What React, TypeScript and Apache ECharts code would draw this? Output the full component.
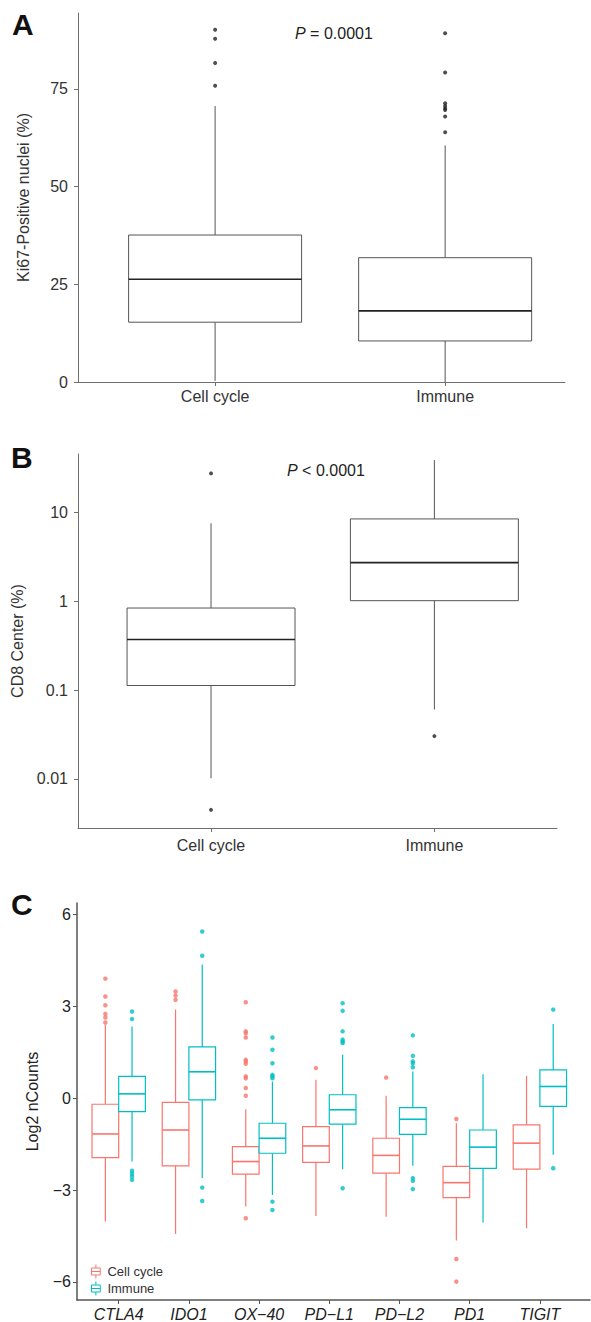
import React, { useEffect, useRef } from "react";
import * as echarts from "echarts";

// ---------- data ----------
const groupsAB = ["Cell cycle", "Immune"];
// box stats: [lower whisker, Q1, median, Q3, upper whisker]
const ki67Boxes = [
  [0.3, 15.3, 26.3, 37.6, 70.6],
  [0.0, 10.5, 18.2, 31.8, 60.5],
];
const ki67OutliersCell = [75.8, 81.6, 87.8, 90.1];
const ki67OutliersImmune = [63.9, 67.9, 69.6, 70.0, 70.6, 71.3, 79.2, 89.2];
const ki67Ticks = [0, 25, 50, 75];

const cd8Boxes = [
  [0.0102, 0.113, 0.372, 0.843, 7.6],
  [0.0607, 1.02, 2.74, 8.5, 39.1],
];
const cd8OutliersCell = [0.00449, 27.7];
const cd8OutliersImmune = [0.0304];
const cd8Ticks = [0.01, 0.1, 1, 10];

const genes = ["CTLA4", "IDO1", "OX\u221240", "PD\u2212L1", "PD\u2212L2", "PD1", "TIGIT"];
const cellCycleBoxes = [
  [-4.03, -1.94, -1.17, -0.2, 2.4],
  [-4.43, -2.21, -1.04, -0.14, 2.89],
  [-3.54, -2.48, -2.07, -1.58, -0.36],
  [-3.85, -2.1, -1.56, -0.93, 0.6],
  [-3.87, -2.45, -1.87, -1.31, 0.08],
  [-4.65, -3.25, -2.76, -2.23, -0.82],
  [-4.25, -2.32, -1.47, -0.87, 0.73],
];
const immuneBoxes = [
  [-2.07, -0.44, 0.14, 0.71, 2.34],
  [-2.61, -0.06, 0.86, 1.67, 4.36],
  [-3.16, -1.8, -1.31, -0.82, 0.54],
  [-2.32, -0.85, -0.38, 0.11, 1.42],
  [-2.21, -1.18, -0.69, -0.31, 0.87],
  [-4.06, -2.29, -1.6, -1.04, 0.78],
  [-1.85, -0.27, 0.38, 0.92, 2.42],
];
const cellCycleOutliers = [
  [3.9, 3.32, 3.03, 2.75, 2.63, 2.47],
  [3.48, 3.35, 3.21],
  [3.13, 2.18, 2.12, 1.98, 1.25, 1.2, 1.12, 0.71, 0.65, 0.33, 0.08, -3.92],
  [0.98],
  [0.67],
  [-0.68, -5.25, -5.99],
  [],
];
const immuneOutliers = [
  [2.83, 2.58, -2.37, -2.47, -2.56, -2.67],
  [5.44, 4.65, -2.92, -3.36],
  [1.98, 1.58, 1.14, 0.76, 0.71, 0.65, -3.38, -3.65],
  [3.1, 2.85, 2.18, 1.91, 1.85, 1.8, -2.94],
  [2.05, 1.38, 1.2, 1.14, 1.01, -2.61, -2.7, -2.97],
  [],
  [2.89, -2.29],
];
const log2Ticks = [-6, -3, 0, 3, 6];
const groupNames = ["Cell cycle", "Immune"];

// ---------- styles ----------
const FONT = "'Liberation Sans', Arial, Helvetica, sans-serif";
const RED = "#F8766D";
const CYAN = "#00BFC4";
const AXIS_GREY = "#6e6e6e";
const TEXT = "#333333";

function boxRenderer(halfW: number, offset: number, stroke: string, medianColor: string, medianWidth: number, lw: number) {
  return (params: any, api: any) => {
    const x = api.value(0) + offset;
    const lo = api.coord([x, api.value(1)]);
    const q1 = api.coord([x, api.value(2)]);
    const md = api.coord([x, api.value(3)]);
    const q3 = api.coord([x, api.value(4)]);
    const hi = api.coord([x, api.value(5)]);
    const cx = lo[0];
    const hw = api.coord([x + halfW, api.value(3)])[0] - cx;
    return {
      type: "group",
      children: [
        { type: "line", shape: { x1: cx, y1: hi[1], x2: cx, y2: q3[1] }, style: { stroke, lineWidth: lw } },
        { type: "line", shape: { x1: cx, y1: q1[1], x2: cx, y2: lo[1] }, style: { stroke, lineWidth: lw } },
        {
          type: "rect",
          shape: { x: cx - hw, y: q3[1], width: 2 * hw, height: q1[1] - q3[1] },
          style: { fill: "#ffffff", stroke, lineWidth: lw },
        },
        { type: "line", shape: { x1: cx - hw, y1: md[1], x2: cx + hw, y2: md[1] }, style: { stroke: medianColor, lineWidth: medianWidth } },
      ],
    };
  };
}

function fmtNum(v: number) {
  return v < 0 ? "\u2212" + Math.abs(v) : String(v);
}

function fmtLog(v: number) {
  return String(Number(v.toPrecision(1)));
}

export default function App() {
  const ref = useRef<HTMLDivElement>(null);
  useEffect(() => {
    document.body.style.margin = "0";
    if (!ref.current) return;
    const chart = echarts.init(ref.current, null, { renderer: "svg" });

    const abLabel = { color: TEXT, fontSize: 16, fontFamily: FONT };

    const option: any = {
      animation: false,
      backgroundColor: "#ffffff",
      textStyle: { fontFamily: FONT },
      grid: [
        { left: 78, top: 13, width: 487, height: 369 },
        { left: 78, top: 454, width: 479, height: 374 },
        { left: 77, top: 903, width: 513, height: 397 },
      ],
      xAxis: [
        {
          type: "value", gridIndex: 0, min: 0.404, max: 2.521,
          splitLine: { show: false },
          axisLine: { onZero: false, lineStyle: { color: AXIS_GREY, width: 1 } },
          axisTick: { show: true, length: 4, customValues: [1, 2], lineStyle: { color: AXIS_GREY } },
          axisLabel: { ...abLabel, margin: 6, customValues: [1, 2], formatter: (v: number) => groupsAB[Math.round(v) - 1] },
        },
        {
          type: "value", gridIndex: 1, min: 0.4044, max: 2.549,
          splitLine: { show: false },
          axisLine: { onZero: false, lineStyle: { color: AXIS_GREY, width: 1 } },
          axisTick: { show: true, length: 4, customValues: [1, 2], lineStyle: { color: AXIS_GREY } },
          axisLabel: { ...abLabel, margin: 9, customValues: [1, 2], formatter: (v: number) => groupsAB[Math.round(v) - 1] },
        },
        {
          type: "value", gridIndex: 2, min: 0.406, max: 7.714,
          splitLine: { show: false },
          axisLine: { onZero: false, lineStyle: { color: "#555555", width: 1.5 } },
          axisTick: { show: true, length: 4, customValues: [1, 2, 3, 4, 5, 6, 7], lineStyle: { color: "#555555" } },
          axisLabel: {
            color: "#222222", fontSize: 16, fontFamily: FONT, fontStyle: "italic", margin: 6,
            customValues: [1, 2, 3, 4, 5, 6, 7],
            formatter: (v: number) => genes[Math.round(v) - 1],
          },
        },
      ],
      yAxis: [
        {
          type: "value", gridIndex: 0, min: 0, max: 94.4,
          splitLine: { show: false },
          axisLine: { show: true, onZero: false, lineStyle: { color: AXIS_GREY, width: 1 } },
          axisTick: { show: true, length: 4, customValues: ki67Ticks, lineStyle: { color: AXIS_GREY } },
          axisLabel: { ...abLabel, margin: 10, customValues: ki67Ticks },
          name: "Ki67-Positive nuclei (%)", nameLocation: "middle", nameGap: 47,
          nameTextStyle: { color: TEXT, fontSize: 16, fontFamily: FONT },
        },
        {
          type: "log", logBase: 10, gridIndex: 1, min: 0.002805, max: 45.8,
          splitLine: { show: false },
          axisLine: { show: true, onZero: false, lineStyle: { color: AXIS_GREY, width: 1 } },
          axisTick: { show: true, length: 4, customValues: cd8Ticks, lineStyle: { color: AXIS_GREY } },
          axisLabel: { ...abLabel, margin: 10, customValues: cd8Ticks, formatter: (v: number) => fmtLog(v) },
          name: "CD8 Center (%)", nameLocation: "middle", nameGap: 50,
          nameTextStyle: { color: TEXT, fontSize: 16, fontFamily: FONT },
        },
        {
          type: "value", gridIndex: 2, min: -6.59, max: 6.37,
          splitLine: { show: false },
          axisLine: { show: true, onZero: false, lineStyle: { color: "#555555", width: 1.5 } },
          axisTick: { show: true, length: 4, customValues: log2Ticks, lineStyle: { color: "#555555" } },
          axisLabel: { color: "#222222", fontSize: 16, fontFamily: FONT, margin: 6, customValues: log2Ticks, formatter: (v: number) => fmtNum(v) },
          name: "Log2 nCounts", nameLocation: "middle", nameGap: 37,
          nameTextStyle: { color: "#222222", fontSize: 16, fontFamily: FONT },
        },
      ],
      legend: {
        left: 86, top: 1259, orient: "vertical", itemWidth: 13, itemHeight: 14, itemGap: 2,
        textStyle: { color: "#333333", fontSize: 13, fontFamily: FONT },
        data: groupNames.map((n, i) => ({
          name: n,
          icon: "path://M1,4 L11,4 L11,12 L1,12 Z M6,0 L6,4 M6,12 L6,16 M1,8 L11,8",
          itemStyle: { color: "#ffffff", borderColor: i === 0 ? RED : CYAN, borderWidth: 1 },
        })),
      },
      series: [
        {
          type: "custom", name: "Ki67", xAxisIndex: 0, yAxisIndex: 0, silent: true,
          renderItem: boxRenderer(0.376, 0, "#555555", "#222222", 1.6, 1),
          data: ki67Boxes.map((b, i) => [i + 1, ...b]),
        },
        {
          type: "scatter", name: "Ki67 outliers", xAxisIndex: 0, yAxisIndex: 0, symbolSize: 4, silent: true,
          itemStyle: { color: "#222222" },
          data: [...ki67OutliersCell.map((v) => [1, v]), ...ki67OutliersImmune.map((v) => [2, v])],
        },
        {
          type: "custom", name: "CD8", xAxisIndex: 1, yAxisIndex: 1, silent: true,
          renderItem: boxRenderer(0.376, 0, "#555555", "#222222", 1.6, 1),
          data: cd8Boxes.map((b, i) => [i + 1, ...b]),
        },
        {
          type: "scatter", name: "CD8 outliers", xAxisIndex: 1, yAxisIndex: 1, symbolSize: 4, silent: true,
          itemStyle: { color: "#222222" },
          data: [...cd8OutliersCell.map((v) => [1, v]), ...cd8OutliersImmune.map((v) => [2, v])],
        },
        {
          type: "custom", name: "Cell cycle", xAxisIndex: 2, yAxisIndex: 2, silent: true,
          itemStyle: { color: RED },
          renderItem: boxRenderer(0.19, -0.19, RED, RED, 1.6, 1.2),
          data: cellCycleBoxes.map((b, i) => [i + 1, ...b]),
        },
        {
          type: "custom", name: "Immune", xAxisIndex: 2, yAxisIndex: 2, silent: true,
          itemStyle: { color: CYAN },
          renderItem: boxRenderer(0.19, 0.19, CYAN, CYAN, 1.6, 1.2),
          data: immuneBoxes.map((b, i) => [i + 1, ...b]),
        },
        {
          type: "scatter", name: "Cell cycle", xAxisIndex: 2, yAxisIndex: 2, symbolSize: 4.5, silent: true,
          itemStyle: { color: RED },
          data: cellCycleOutliers.flatMap((arr, i) => arr.map((v) => [i + 1 - 0.19, v])),
        },
        {
          type: "scatter", name: "Immune", xAxisIndex: 2, yAxisIndex: 2, symbolSize: 4.5, silent: true,
          itemStyle: { color: CYAN },
          data: immuneOutliers.flatMap((arr, i) => arr.map((v) => [i + 1 + 0.19, v])),
        },
      ],
      graphic: [
        { type: "text", x: 12, y: 24, style: { text: "A", fontSize: 30, fontWeight: "bold", fontFamily: FONT, fill: "#111", verticalAlign: "middle" } },
        { type: "text", x: 11, y: 457, style: { text: "B", fontSize: 30, fontWeight: "bold", fontFamily: FONT, fill: "#111", verticalAlign: "middle" } },
        { type: "text", x: 11, y: 904, style: { text: "C", fontSize: 30, fontWeight: "bold", fontFamily: FONT, fill: "#111", verticalAlign: "middle" } },
        {
          type: "text", x: 295, y: 33,
          style: {
            text: "{i|P} = 0.0001", fontSize: 16, fontFamily: FONT, fill: "#222", verticalAlign: "middle",
            rich: { i: { fontStyle: "italic", fontSize: 16, fontFamily: FONT, fill: "#222" } },
          },
        },
        {
          type: "text", x: 287, y: 470,
          style: {
            text: "{i|P} < 0.0001", fontSize: 16, fontFamily: FONT, fill: "#222", verticalAlign: "middle",
            rich: { i: { fontStyle: "italic", fontSize: 16, fontFamily: FONT, fill: "#222" } },
          },
        },
      ],
    };
    chart.setOption(option);
    return () => chart.dispose();
  }, []);
  return <div ref={ref} style={{ width: 591, height: 1322 }} />;
}
